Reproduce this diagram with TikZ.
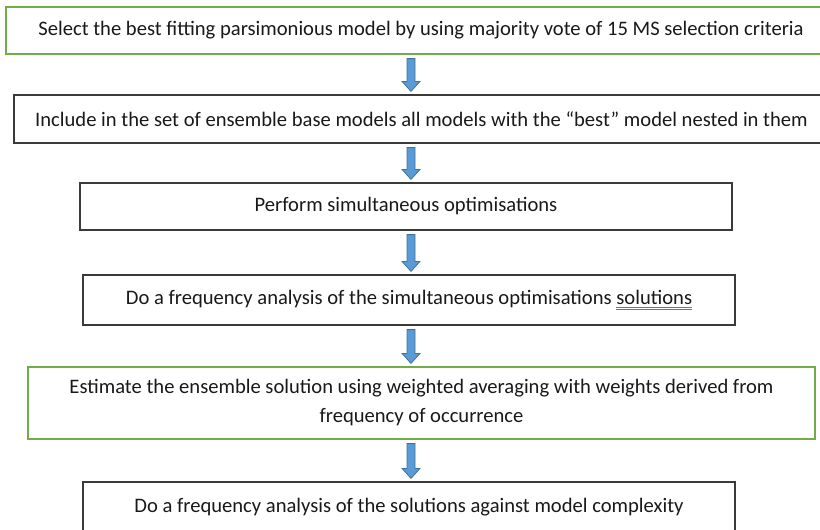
\documentclass[tikz,border=0pt]{standalone}
\usepackage{fontspec}
\setmainfont{Carlito}
\usetikzlibrary{calc}
\definecolor{boxgreen}{HTML}{70AD47}
\definecolor{boxgray}{HTML}{3A3A3A}
\definecolor{arrfill}{HTML}{5B9BD5}
\definecolor{arrline}{HTML}{41719C}
\definecolor{ulblue}{HTML}{3B78E7}
\newcommand{\dblul}[1]{{\setbox0\hbox{#1}\rlap{\color{ulblue}\rule[-3.4pt]{\wd0}{1pt}}\rlap{\color{ulblue}\rule[-6pt]{\wd0}{1pt}}\box0}}
\tikzset{
  stepbox/.style={draw=boxgray, line width=1.2pt, rectangle, inner sep=0pt, align=center,
    font=\fontsize{20.6}{29}\selectfont, text=black!90},
  greenbox/.style={stepbox, draw=boxgreen},
}
\newcommand{\blockarrow}[2]{%
  \path let \p1=(#1.south), \p2=(#2.north) in
    [fill=arrfill, draw=arrline, line width=0.8pt]
    (407pt,\y1-4pt) -- (415pt,\y1-4pt) -- (415pt,\y2+13pt) -- (420pt,\y2+13pt)
    -- (411pt,\y2+3pt) -- (402pt,\y2+13pt) -- (407pt,\y2+13pt) -- cycle;}
\begin{document}
\begin{tikzpicture}[x=1pt,y=-1pt]
\useasboundingbox (0,0) rectangle (820,530);
\clip (0,0) rectangle (820,530);
\node[greenbox, minimum width=830pt, minimum height=47pt] (b1) at (421,30.5)
  {Select the best fitting parsimonious model by using majority vote of 15 MS selection criteria};
\node[stepbox, minimum width=815pt, minimum height=48pt] (b2) at (421.5,119)
  {Include in the set of ensemble base models all models with the “best” model nested in them};
\node[stepbox, minimum width=652pt, minimum height=47pt] (b3) at (406,206.5)
  {Perform simultaneous optimisations};
\node[stepbox, minimum width=652pt, minimum height=50pt] (b4) at (409,300)
  {Do a frequency analysis of the simultaneous optimisations \dblul{solutions}};
\node[greenbox, minimum width=787pt, minimum height=72pt] (b5) at (421.5,403)
  {Estimate the ensemble solution using weighted averaging with weights derived from\\frequency of occurrence};
\node[stepbox, minimum width=652pt, minimum height=50pt] (b6) at (409,507)
  {Do a frequency analysis of the solutions against model complexity};
\blockarrow{b1}{b2}
\blockarrow{b2}{b3}
\blockarrow{b3}{b4}
\blockarrow{b4}{b5}
\blockarrow{b5}{b6}
\end{tikzpicture}
\end{document}
